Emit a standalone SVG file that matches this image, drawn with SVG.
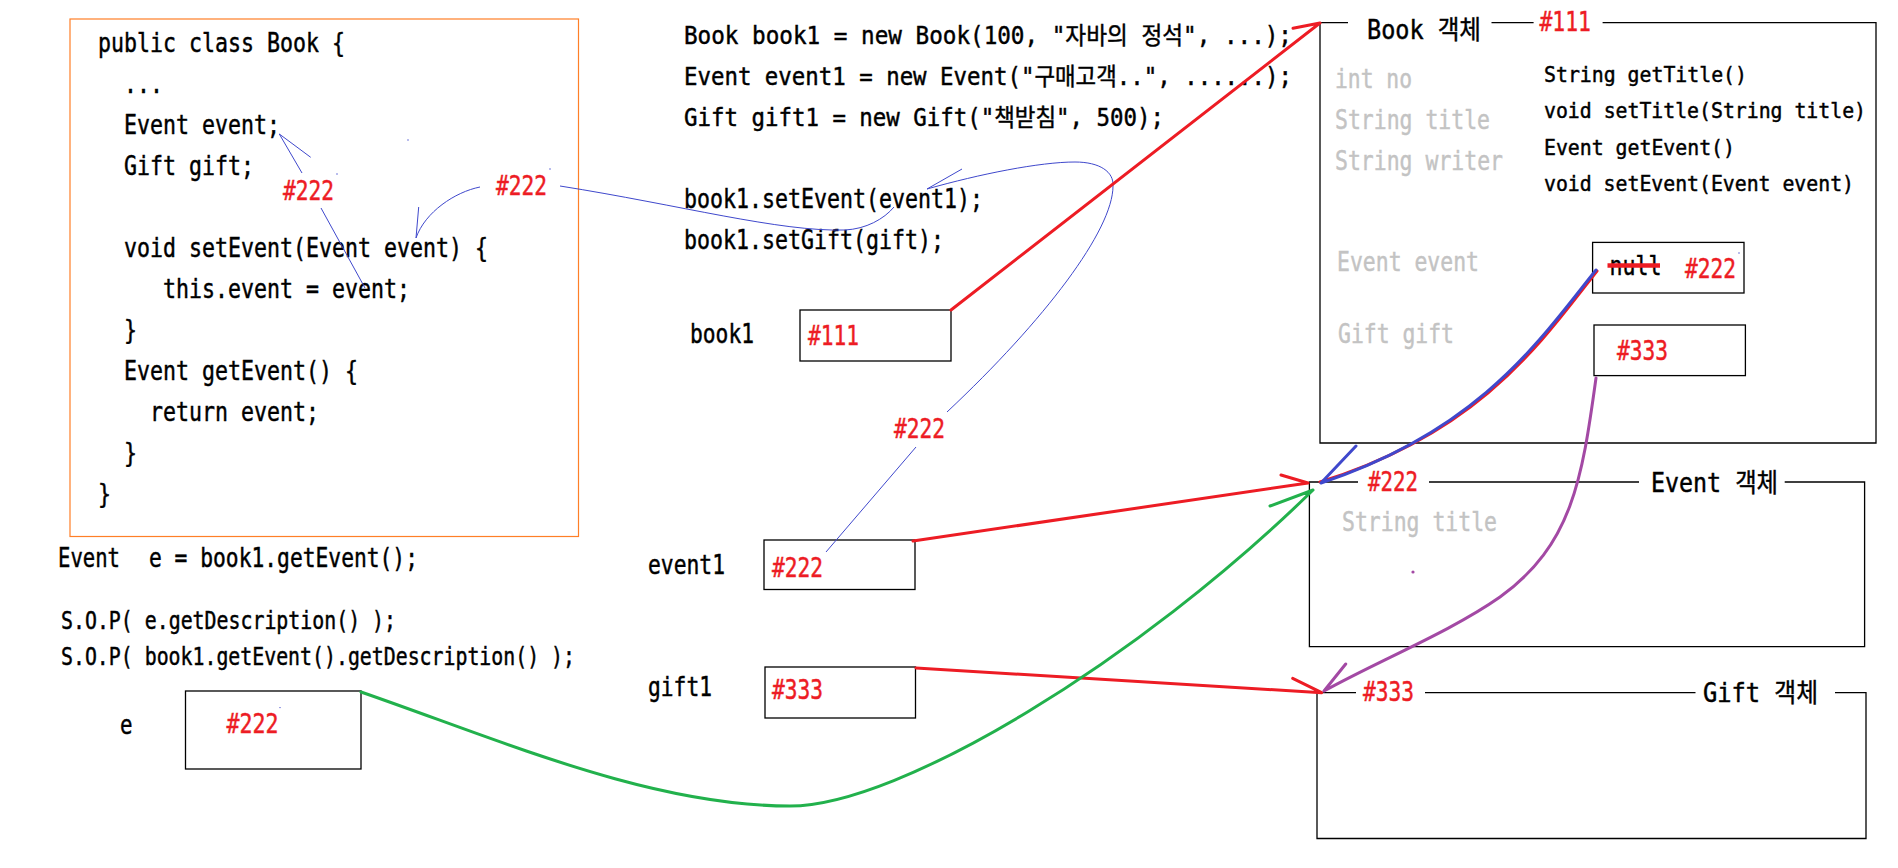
<svg xmlns="http://www.w3.org/2000/svg" width="1898" height="868" viewBox="0 0 1898 868">
<style>
text{font-family:"DejaVu Sans Mono","Noto Sans CJK KR",monospace;font-size:26px;fill:#000;stroke:#000;stroke-width:0.45}
.t{font-size:24px}
.m{font-size:21px}
.s{font-size:24px}
.r{fill:#ed1c24;stroke:#ed1c24}
.g{fill:#c3c3c3;stroke:#c3c3c3}
.box{fill:none;stroke:#000;stroke-width:1.3}
.thin{fill:none;stroke:#3f48cc;stroke-width:1}
.red{fill:none;stroke:#ed1c24;stroke-width:3;stroke-linecap:round}
.blue{fill:none;stroke:#3f48cc;stroke-width:3;stroke-linecap:round}
.green{fill:none;stroke:#22b14c;stroke-width:3;stroke-linecap:round}
.purple{fill:none;stroke:#a349a4;stroke-width:3;stroke-linecap:round}
</style>
<rect width="1898" height="868" fill="#fff"/>

<g id="class-book">
<rect x="70" y="19" width="508.5" height="517.5" fill="none" stroke="#ff7f27" stroke-width="1.2"/>
<text x="98" y="52" textLength="247" lengthAdjust="spacingAndGlyphs">public class Book {</text>
<text x="124" y="93" textLength="39" lengthAdjust="spacingAndGlyphs">...</text>
<text x="124" y="134" textLength="156" lengthAdjust="spacingAndGlyphs">Event event;</text>
<text x="124" y="175" textLength="130" lengthAdjust="spacingAndGlyphs">Gift gift;</text>
<text x="124" y="257" textLength="364" lengthAdjust="spacingAndGlyphs">void setEvent(Event event) {</text>
<text x="163" y="298" textLength="247" lengthAdjust="spacingAndGlyphs">this.event = event;</text>
<text x="124" y="339" textLength="13" lengthAdjust="spacingAndGlyphs">}</text>
<text x="124" y="380" textLength="234" lengthAdjust="spacingAndGlyphs">Event getEvent() {</text>
<text x="150" y="421" textLength="169" lengthAdjust="spacingAndGlyphs">return event;</text>
<text x="124" y="462" textLength="13" lengthAdjust="spacingAndGlyphs">}</text>
<text x="98" y="503" textLength="13" lengthAdjust="spacingAndGlyphs">}</text>
</g>

<g id="main-code">
<text class="t" x="684" y="44" textLength="608" lengthAdjust="spacingAndGlyphs">Book book1 = new Book(100, "자바의 정석", ...);</text>
<text class="t" x="684" y="85" textLength="608" lengthAdjust="spacingAndGlyphs">Event event1 = new Event("구매고객..", ......);</text>
<text class="t" x="684" y="126" textLength="480" lengthAdjust="spacingAndGlyphs">Gift gift1 = new Gift("책받침", 500);</text>
<text x="684" y="208" textLength="299" lengthAdjust="spacingAndGlyphs">book1.setEvent(event1);</text>
<text x="684" y="249" textLength="260" lengthAdjust="spacingAndGlyphs">book1.setGift(gift);</text>
</g>

<g id="getevent-code">
<text x="58" y="567" textLength="62" lengthAdjust="spacingAndGlyphs">Event</text>
<text x="149" y="567" textLength="269" lengthAdjust="spacingAndGlyphs">e = book1.getEvent();</text>
<text class="s" x="61" y="629" textLength="335" lengthAdjust="spacingAndGlyphs">S.O.P( e.getDescription() );</text>
<text class="s" x="61" y="664.5" textLength="514" lengthAdjust="spacingAndGlyphs">S.O.P( book1.getEvent().getDescription() );</text>
</g>

<g id="var-book1">
<text x="690" y="343" textLength="64" lengthAdjust="spacingAndGlyphs">book1</text>
<rect class="box" x="800" y="310" width="151" height="51"/>
<text class="r" x="808" y="345" textLength="51" lengthAdjust="spacingAndGlyphs">#111</text>
</g>

<g id="var-event1">
<text x="648" y="574" textLength="77" lengthAdjust="spacingAndGlyphs">event1</text>
<rect class="box" x="764" y="540" width="151" height="49.5"/>
<text class="r" x="772" y="576.5" textLength="51" lengthAdjust="spacingAndGlyphs">#222</text>
</g>

<g id="var-gift1">
<text x="648" y="696" textLength="64" lengthAdjust="spacingAndGlyphs">gift1</text>
<rect class="box" x="765" y="667" width="150.5" height="51"/>
<text class="r" x="772" y="699" textLength="51" lengthAdjust="spacingAndGlyphs">#333</text>
</g>

<g id="var-e">
<text x="120" y="734" textLength="12.5" lengthAdjust="spacingAndGlyphs">e</text>
<rect class="box" x="185.5" y="691" width="175.5" height="78"/>
<text class="r" x="226.5" y="733" textLength="52" lengthAdjust="spacingAndGlyphs">#222</text>
</g>

<g id="book-object">
<path class="box" d="M1348,22.6 H1320 V443 H1876 V22.6 H1602.6 M1491.5,22.6 H1533.6"/>
<text x="1367" y="38.5" textLength="114" lengthAdjust="spacingAndGlyphs">Book 객체</text>
<text class="r" x="1539.5" y="31" textLength="51.5" lengthAdjust="spacingAndGlyphs">#111</text>
<text class="g" x="1335" y="88" textLength="77" lengthAdjust="spacingAndGlyphs">int no</text>
<text class="g" x="1335" y="128.5" textLength="155" lengthAdjust="spacingAndGlyphs">String title</text>
<text class="g" x="1335" y="170" textLength="168" lengthAdjust="spacingAndGlyphs">String writer</text>
<text class="m" x="1544" y="82" textLength="203" lengthAdjust="spacingAndGlyphs">String getTitle()</text>
<text class="m" x="1544" y="118" textLength="322" lengthAdjust="spacingAndGlyphs">void setTitle(String title)</text>
<text class="m" x="1544" y="154.5" textLength="191" lengthAdjust="spacingAndGlyphs">Event getEvent()</text>
<text class="m" x="1544" y="190.5" textLength="310" lengthAdjust="spacingAndGlyphs">void setEvent(Event event)</text>
<text class="g" x="1337" y="271" textLength="142" lengthAdjust="spacingAndGlyphs">Event event</text>
<text class="g" x="1338" y="343" textLength="116" lengthAdjust="spacingAndGlyphs">Gift gift</text>
<rect class="box" x="1592.6" y="242.4" width="151.4" height="50.6"/>
<text x="1609.5" y="275" textLength="52" lengthAdjust="spacingAndGlyphs">null</text>
<line x1="1607.5" y1="265.5" x2="1660" y2="265.5" stroke="#ed1c24" stroke-width="4.5"/>
<text class="r" x="1685" y="278" textLength="51" lengthAdjust="spacingAndGlyphs">#222</text>
<rect class="box" x="1594" y="325" width="151.4" height="50.6"/>
<text class="r" x="1617" y="360" textLength="51" lengthAdjust="spacingAndGlyphs">#333</text>
<circle cx="1739" cy="253" r="0.7" fill="#3f48cc"/>
</g>

<g id="event-object">
<path class="box" d="M1358,482 H1309.4 V646.6 H1864.6 V482 H1784.7 M1429,482 H1639"/>
<text class="r" x="1368" y="490.5" textLength="50" lengthAdjust="spacingAndGlyphs">#222</text>
<text x="1651" y="492" textLength="127" lengthAdjust="spacingAndGlyphs">Event 객체</text>
<text class="g" x="1342" y="531" textLength="155" lengthAdjust="spacingAndGlyphs">String title</text>
<circle cx="1413" cy="572" r="1.6" fill="#a349a4"/>
</g>

<g id="gift-object">
<path class="box" d="M1356,692.7 H1317 V838.5 H1866 V692.7 H1835 M1425,692.7 H1695.5"/>
<text class="r" x="1363" y="700.5" textLength="51" lengthAdjust="spacingAndGlyphs">#333</text>
<text x="1703" y="702" textLength="115" lengthAdjust="spacingAndGlyphs">Gift 객체</text>
</g>

<g id="connectors">
<path class="thin" d="M927,189 C980,174 1040,162 1075,162 C1100,162 1114,172 1113,186 C1113,230 1045,320 947,412"/>
<path class="thin" d="M927,189 L962,169"/>
<path class="thin" d="M916,447 L826,552"/>
<text class="r" x="894" y="438" textLength="51" lengthAdjust="spacingAndGlyphs">#222</text>
<path class="thin" d="M560,186 C680,205 780,232 845,230 C866,229 884,219 894,207"/>
<text class="r" x="496" y="195" textLength="51" lengthAdjust="spacingAndGlyphs">#222</text>
<path class="thin" d="M480,187 C455,192 425,212 416,238 M418.7,207 L416,238"/>
<path class="thin" d="M365,288 L321,208 M302,173 L279.3,134 L310.7,157.3"/>
<text class="r" x="283" y="200" textLength="51" lengthAdjust="spacingAndGlyphs">#222</text>
<circle cx="408" cy="140" r="0.7" fill="#3f48cc"/>
<circle cx="337" cy="174" r="0.7" fill="#3f48cc"/>
<circle cx="550" cy="169" r="0.7" fill="#3f48cc"/>
<circle cx="280" cy="707.6" r="0.7" fill="#3f48cc"/>

<path class="red" d="M951,310 L1320,23 M1293,28.3 L1320,23"/>
<path class="red" d="M913,541 L1308,483 M1281,475 L1308,483"/>
<path class="red" d="M916,668 L1321.7,692.7 M1292.7,678.3 L1321.7,692.7"/>

<path class="red" d="M1597,271 C1541,342 1481,432 1320,482"/>
<path class="blue" d="M1596,270 C1540,340 1480,430 1321,483 M1356,446 L1321,483"/>

<path class="purple" d="M1596,378 C1582,480 1572,545 1500,597 C1450,632 1380,660 1324,691 M1345.7,664 L1324,691"/>

<path class="green" d="M361,692 C500,740 650,806 790,806 C900,806 1140,660 1313,490 M1270,506 L1313,490"/>
</g>
</svg>
